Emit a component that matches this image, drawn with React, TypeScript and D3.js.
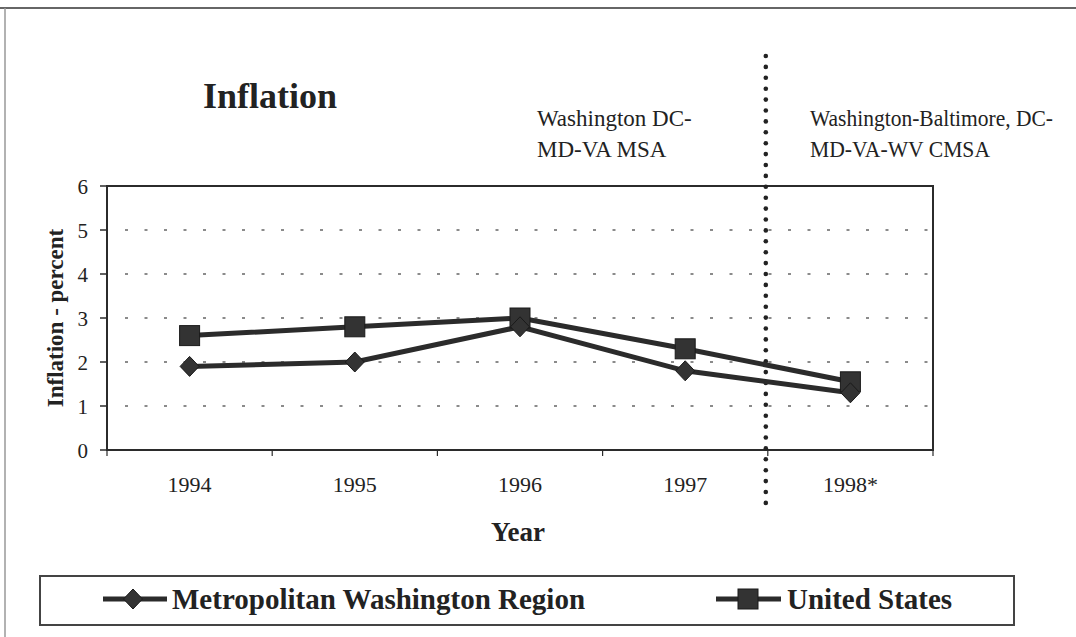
import React from "react";
import * as d3 from "d3";

const years = ["1994", "1995", "1996", "1997", "1998*"];
const metroValues = [1.9, 2.0, 2.8, 1.8, 1.3];
const usValues = [2.6, 2.8, 3.0, 2.3, 1.55];
const yTicks = [0, 1, 2, 3, 4, 5, 6];
const gridValues = [1, 2, 3, 4, 5];
const seriesNames = ["Metropolitan Washington Region", "United States"];
const regionLeft = ["Washington DC-", "MD-VA MSA"];
const regionRight = ["Washington-Baltimore, DC-", "MD-VA-WV CMSA"];

const W = 1076;
const H = 637;
const plot = { left: 107, right: 933, top: 186, bottom: 450 };
const serif = "'Liberation Serif', 'Times New Roman', serif";
const ink = "#2b2b2b";

export default function App() {
  const x = d3.scaleBand<string>().domain(years).range([plot.left, plot.right]).padding(0);
  const y = d3.scaleLinear().domain([0, 6]).range([plot.bottom, plot.top]);
  const cx = (d: string) => (x(d) as number) + x.bandwidth() / 2;

  const line = d3
    .line<number>()
    .x((_, i) => cx(years[i]))
    .y((v) => y(v));

  const boundaries = years.slice(1).map((d) => x(d) as number);
  const splitX = (x(years[4]) as number) - 2;
  const dotYs = d3.range(56, 512, 10.9);

  const diamond = (px: number, py: number, r: number) =>
    `M${px},${py - r}L${px + r * 0.95},${py}L${px},${py + r}L${px - r * 0.95},${py}Z`;

  return (
    <svg
      width={W}
      height={H}
      style={{ position: "absolute", left: 0, top: 0, background: "#fff" }}
      fontFamily={serif}
    >
      <rect x={0} y={0} width={W} height={H} fill="#fff" />
      {/* outer frame */}
      <line x1={0} x2={W} y1={8} y2={8} stroke="#666" strokeWidth={2} />
      <line x1={5} x2={5} y1={8} y2={H} stroke="#999" strokeWidth={1.5} />

      {/* title */}
      <text x={203} y={108} fontSize={36} fontWeight="bold" fill="#222">Inflation</text>

      {/* region annotations */}
      {regionLeft.map((t, i) => (
        <text key={"l" + i} x={537} y={126 + i * 31} fontSize={23} fill="#222">{t}</text>
      ))}
      {regionRight.map((t, i) => (
        <text
          key={"r" + i}
          x={810}
          y={126 + i * 31}
          fontSize={23}
          fill="#222"
          textLength={i === 0 ? 243 : 180}
          lengthAdjust="spacingAndGlyphs"
        >
          {t}
        </text>
      ))}

      {/* gridlines */}
      {gridValues.map((v) => (
        <line
          key={"g" + v}
          x1={plot.left + 18}
          x2={plot.right}
          y1={y(v)}
          y2={y(v)}
          stroke="#666"
          strokeWidth={1.5}
          strokeDasharray="3 16.5"
        />
      ))}

      {/* plot frame */}
      <rect
        x={plot.left}
        y={plot.top}
        width={plot.right - plot.left}
        height={plot.bottom - plot.top}
        fill="none"
        stroke={ink}
        strokeWidth={2}
      />

      {/* y ticks */}
      {yTicks.map((v) => (
        <g key={"yt" + v}>
          <line x1={plot.left - 7} x2={plot.left} y1={y(v)} y2={y(v)} stroke={ink} strokeWidth={1.5} />
          <text x={88} y={y(v) + 8} fontSize={21} textAnchor="end" fill="#222">{v}</text>
        </g>
      ))}

      {/* x ticks */}
      {[plot.left, ...boundaries, plot.right].map((bx, i) => (
        <line key={"xt" + i} x1={bx} x2={bx} y1={plot.bottom} y2={plot.bottom + 6} stroke={ink} strokeWidth={1.2} />
      ))}
      {years.map((d) => (
        <text key={"xl" + d} x={cx(d)} y={492} fontSize={22} textAnchor="middle" fill="#222">{d}</text>
      ))}

      {/* axis titles */}
      <text
        transform={`translate(63, ${318}) rotate(-90)`}
        fontSize={23}
        fontWeight="bold"
        textAnchor="middle"
        fill="#222"
      >
        Inflation - percent
      </text>
      <text x={518} y={541} fontSize={27} fontWeight="bold" textAnchor="middle" fill="#222">Year</text>

      {/* vertical dotted separator */}
      {dotYs.map((dy, i) => (
        <circle key={"d" + i} cx={splitX} cy={dy} r={2.3} fill="#222" />
      ))}

      {/* series lines */}
      <path d={line(usValues) as string} fill="none" stroke={ink} strokeWidth={5} />
      <path d={line(metroValues) as string} fill="none" stroke={ink} strokeWidth={5} />

      {/* markers */}
      {usValues.map((v, i) => (
        <rect
          key={"s" + i}
          x={cx(years[i]) - 10}
          y={y(v) - 10}
          width={20}
          height={20}
          fill="#333"
          stroke="#1a1a1a"
          strokeWidth={1}
        />
      ))}
      {metroValues.map((v, i) => (
        <path key={"m" + i} d={diamond(cx(years[i]), y(v), 10)} fill="#333" stroke="#1a1a1a" strokeWidth={1} />
      ))}

      {/* legend */}
      <rect x={40} y={576} width={974} height={49} fill="none" stroke="#444" strokeWidth={2} />
      <line x1={103} x2={167} y1={599} y2={599} stroke={ink} strokeWidth={5} />
      <path d={diamond(133, 599, 10)} fill="#333" stroke="#1a1a1a" strokeWidth={1} />
      <text x={172} y={609} fontSize={29} fontWeight="bold" fill="#222">{seriesNames[0]}</text>
      <line x1={716} x2={781} y1={599} y2={599} stroke={ink} strokeWidth={5} />
      <rect x={738} y={589} width={20} height={20} fill="#333" stroke="#1a1a1a" strokeWidth={1} />
      <text x={787} y={609} fontSize={29} fontWeight="bold" fill="#222">{seriesNames[1]}</text>
    </svg>
  );
}
